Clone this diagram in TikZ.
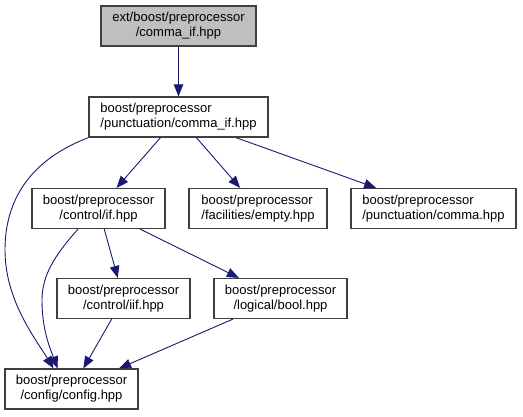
\documentclass[tikz,border=0pt]{standalone}
\usepackage{fontspec}
\setmainfont{Liberation Sans}
\usetikzlibrary{arrows.meta,calc}
\definecolor{edgeblue}{HTML}{191970}
\definecolor{boxline}{HTML}{404040}
\definecolor{topfill}{HTML}{BFBFBF}
\begin{document}
\begin{tikzpicture}[x=1pt,y=-1pt,
  file/.style={draw=boxline,line width=1.2pt,fill=white,minimum height=40pt,inner sep=0pt,
    font=\fontsize{13}{15}\selectfont,text=black},
  dep/.style={draw=edgeblue,line width=0.9pt,-{Triangle[length=12pt,width=9.5pt]}}]
\useasboundingbox (0,0) rectangle (523,416);
\node[file,fill=topfill,align=center,minimum width=155pt] (top) at (178.5,26) {ext/boost/preprocessor\\/comma\_if.hpp};
\node[file,align=left,minimum width=179pt] (pc) at (178.5,117) {boost/preprocessor\\/punctuation/comma\_if.hpp};
\node[file,align=center,minimum width=133pt] (if) at (98.5,208.5) {boost/preprocessor\\/control/if.hpp};
\node[file,align=left,minimum width=138pt] (empty) at (258,208.5) {boost/preprocessor\\/facilities/empty.hpp};
\node[file,align=left,minimum width=165pt] (comma) at (433.5,208.5) {boost/preprocessor\\/punctuation/comma.hpp};
\node[file,align=center,minimum width=133pt] (iif) at (123.5,298.5) {boost/preprocessor\\/control/iif.hpp};
\node[file,align=center,minimum width=133pt] (bool) at (280.5,298.5) {boost/preprocessor\\/logical/bool.hpp};
\node[file,align=center,minimum width=133pt] (cfg) at (71.5,389) {boost/preprocessor\\/config/config.hpp};
\draw[dep] (top) -- (pc);
\draw[dep] (pc) -- (if);
\draw[dep] (pc) -- (empty);
\draw[dep] (pc) -- (comma);
\draw[dep] (pc.south west) .. controls (30,160) and (5,200) .. (5,250)
  .. controls (5,300) and (35,338) .. ($(cfg.north)+(-18,0)$);
\draw[dep] ($(if.south)+(-20.5,0)$) .. controls (55,255) and (42,275) .. (42,300)
  .. controls (42,330) and (50,348) .. ($(cfg.north)+(-14,0)$);
\draw[dep] (if) -- (iif);
\draw[dep] (if) -- (bool);
\draw[dep] (iif) -- (cfg);
\draw[dep] (bool) -- (cfg);
\end{tikzpicture}
\end{document}
